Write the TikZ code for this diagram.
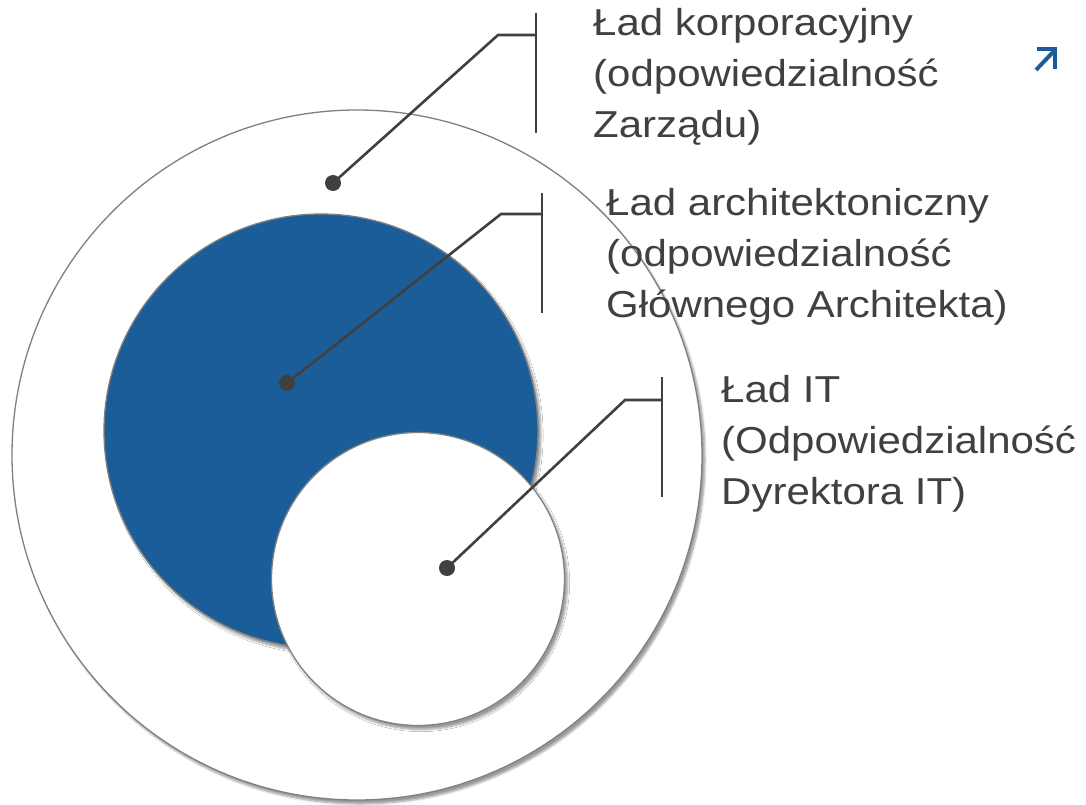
\documentclass[tikz,border=0pt]{standalone}
\usepackage{fontspec}
\setmainfont{Liberation Sans}[FakeStretch=1.12]
\usetikzlibrary{shadows.blur}
\definecolor{govblue}{RGB}{27,93,153}
\definecolor{rimgray}{RGB}{128,128,128}
\definecolor{inkgray}{RGB}{64,64,64}
\tikzset{
  ring/.style={circle, inner sep=0pt, draw=rimgray, line width=1.3pt,
    blur shadow={shadow xshift=3pt, shadow yshift=-4pt, shadow blur steps=6, shadow opacity=40}},
  dotn/.style={circle, fill=inkgray, inner sep=0pt, minimum size=16pt},
  leader/.style={draw=inkgray, line width=2.6pt},
  bar/.style={draw=inkgray, line width=2.6pt},
  lbl/.style={anchor=base west, inner sep=0pt, align=left, text=inkgray,
    font=\fontsize{37.5}{51}\selectfont}
}
\begin{document}
\begin{tikzpicture}[x=1pt,y=-1pt]
\useasboundingbox (0,0) rectangle (1086,805);
% circles
\node[ring, fill=white, minimum size=690pt] (outer) at (357,455) {};
\node[ring, fill=govblue, minimum size=434pt] (arch) at (321,431) {};
\node[ring, fill=white, minimum size=293pt] (it) at (418,579) {};
% dots
\node[dotn] (d1) at (333,183) {};
\node[dotn] (d2) at (287,383) {};
\node[dotn] (d3) at (447,568) {};
% leader geometry
\coordinate (e1) at (498,35);  \coordinate (t1) at (536,13);  \coordinate (u1) at (536,133);
\coordinate (e2) at (501,214); \coordinate (t2) at (542,193); \coordinate (u2) at (542,313);
\coordinate (e3) at (625,400); \coordinate (t3) at (662,377); \coordinate (u3) at (662,497);
\draw[leader] (d1.center) -- (e1) -- (e1 -| t1);
\draw[leader] (d2.center) -- (e2) -- (e2 -| t2);
\draw[leader] (d3.center) -- (e3) -- (e3 -| t3);
\draw[bar] (t1) -- (u1);
\draw[bar] (t2) -- (u2);
\draw[bar] (t3) -- (u3);
% labels (base anchor = baseline of the last line)
\node[lbl] (l1) at (593,138) {Ład korporacyjny\\(odpowiedzialność\\Zarządu)};
\node[lbl] (l2) at (606,317) {Ład architektoniczny\\(odpowiedzialność\\Głównego Architekta)};
\node[lbl] (l3) at (721,504) {Ład IT\\(Odpowiedzialność\\Dyrektora IT)};
% corner arrow icon
\draw[govblue, line width=4pt] (1037,49) -- (1055,49) -- (1055,69);
\draw[govblue, line width=4pt] (1036,70) -- (1054,51);
\end{tikzpicture}
\end{document}
